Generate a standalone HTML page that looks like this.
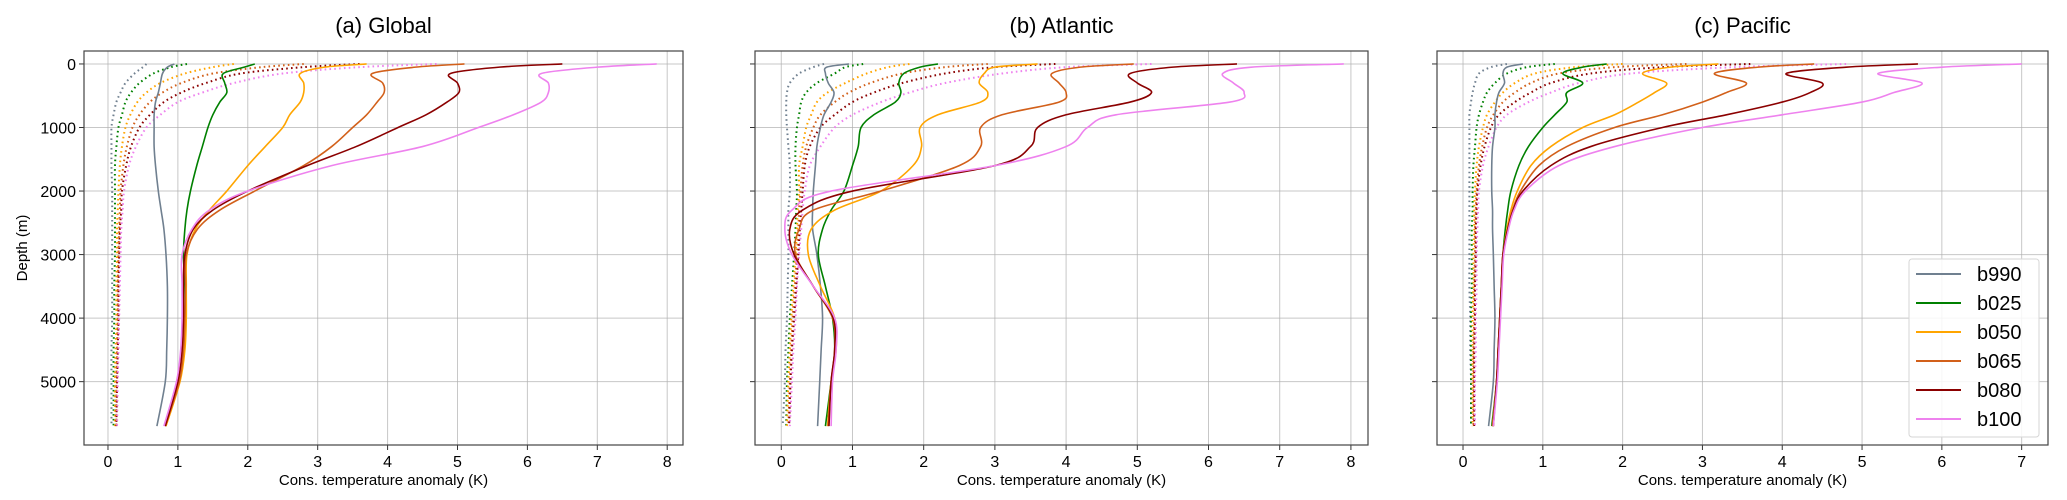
<!DOCTYPE html>
<html><head><meta charset="utf-8"><style>
html,body{margin:0;padding:0;background:#fff;}
svg{display:block;font-family:"Liberation Sans","DejaVu Sans",sans-serif;}
</style></head><body>
<svg id="fig" width="2067" height="500" viewBox="0 0 2067 500" xmlns="http://www.w3.org/2000/svg"></svg>
<script>
const depths = [0, 50, 150, 300, 450, 600, 800, 1000, 1300, 1600, 2000, 2300, 2600, 3000, 3500, 4000, 4500, 5000, 5700];
const seriesNames = ["b990","b025","b050","b065","b080","b100"];
const seriesColors = ["#708090","#008000","#ffa500","#d2601a","#8b0000","#ee82ee"];
const panelTitles = ["(a) Global","(b) Atlantic","(c) Pacific"];
const xTicksAB = [0,1,2,3,4,5,6,7,8];
const xTicksC = [0,1,2,3,4,5,6,7];
const yTicks = [0,1000,2000,3000,4000,5000];

const globalSolid = [
 [0.95,0.85,0.78,0.75,0.72,0.68,0.66,0.66,0.66,0.68,0.72,0.76,0.8,0.83,0.85,0.85,0.84,0.82,0.7],
 [2.1,1.95,1.65,1.67,1.7,1.6,1.5,1.43,1.35,1.27,1.18,1.13,1.1,1.08,1.1,1.1,1.08,1.02,0.82],
 [3.7,3.1,2.75,2.8,2.8,2.75,2.6,2.5,2.25,2.0,1.7,1.45,1.25,1.13,1.12,1.12,1.1,1.03,0.83],
 [5.1,4.4,3.78,3.93,3.95,3.85,3.7,3.5,3.2,2.8,2.1,1.6,1.28,1.12,1.11,1.1,1.08,1.02,0.82],
 [6.5,5.6,4.9,5.0,5.02,4.85,4.55,4.15,3.55,2.85,2.0,1.5,1.22,1.1,1.08,1.08,1.06,1.0,0.82],
 [7.85,7.0,6.2,6.3,6.3,6.2,5.8,5.3,4.5,3.2,2.0,1.45,1.2,1.06,1.06,1.06,1.04,0.98,0.8]];
const globalDotted = [
 [0.55,0.5,0.38,0.25,0.18,0.12,0.08,0.05,0.05,0.05,0.06,0.06,0.06,0.06,0.06,0.06,0.05,0.05,0.05],
 [1.13,0.9,0.65,0.45,0.33,0.25,0.2,0.15,0.12,0.1,0.1,0.1,0.1,0.1,0.09,0.09,0.08,0.08,0.08],
 [1.8,1.5,1.1,0.75,0.55,0.42,0.32,0.25,0.2,0.17,0.15,0.14,0.13,0.13,0.12,0.12,0.11,0.1,0.1],
 [2.8,2.2,1.5,1.05,0.78,0.6,0.45,0.35,0.27,0.22,0.18,0.17,0.16,0.15,0.14,0.14,0.13,0.12,0.12],
 [3.6,2.8,1.9,1.4,1.05,0.8,0.6,0.45,0.33,0.26,0.2,0.19,0.17,0.16,0.15,0.15,0.14,0.13,0.12],
 [4.7,3.6,2.5,1.8,1.35,1.0,0.75,0.55,0.4,0.3,0.23,0.21,0.19,0.18,0.17,0.16,0.15,0.14,0.13]];

const atlanticSolid = [
 [0.95,0.64,0.62,0.66,0.74,0.7,0.6,0.55,0.5,0.48,0.45,0.44,0.44,0.5,0.55,0.58,0.56,0.54,0.51],
 [2.2,1.95,1.72,1.65,1.68,1.6,1.3,1.12,1.08,1.0,0.88,0.7,0.58,0.52,0.62,0.72,0.75,0.7,0.62],
 [3.6,3.0,2.85,2.78,2.9,2.8,2.2,1.95,1.97,1.85,1.4,0.75,0.42,0.38,0.55,0.75,0.77,0.7,0.65],
 [4.95,4.2,3.8,3.9,4.0,3.9,3.1,2.8,2.8,2.5,1.4,0.45,0.25,0.2,0.45,0.72,0.75,0.7,0.66],
 [6.4,5.5,4.9,5.0,5.2,4.9,4.0,3.6,3.5,3.0,1.0,0.3,0.12,0.18,0.45,0.73,0.75,0.7,0.67],
 [7.9,6.6,6.2,6.35,6.5,6.3,4.7,4.3,4.0,3.0,0.7,0.15,0.05,0.15,0.45,0.75,0.77,0.72,0.7]];
const atlanticDotted = [
 [0.6,0.45,0.25,0.12,0.08,0.07,0.07,0.08,0.1,0.12,0.12,0.1,0.1,0.1,0.09,0.08,0.06,0.05,0.02],
 [1.15,0.9,0.75,0.5,0.35,0.28,0.25,0.22,0.2,0.2,0.22,0.21,0.2,0.18,0.15,0.12,0.1,0.08,0.07],
 [1.8,1.5,1.2,0.9,0.65,0.5,0.42,0.35,0.3,0.25,0.25,0.23,0.22,0.2,0.17,0.14,0.12,0.1,0.08],
 [2.9,2.3,1.7,1.25,0.95,0.75,0.55,0.45,0.35,0.3,0.27,0.25,0.24,0.22,0.19,0.16,0.14,0.12,0.1],
 [3.85,3.0,2.3,1.7,1.3,1.0,0.75,0.55,0.4,0.33,0.3,0.28,0.26,0.24,0.21,0.18,0.15,0.13,0.11],
 [5.2,4.0,3.1,2.3,1.8,1.4,1.0,0.75,0.55,0.4,0.33,0.3,0.28,0.25,0.22,0.2,0.17,0.15,0.12]];

const pacificSolid = [
 [0.75,0.55,0.5,0.52,0.45,0.42,0.4,0.4,0.37,0.36,0.36,0.37,0.37,0.38,0.39,0.4,0.39,0.38,0.32],
 [1.8,1.5,1.25,1.5,1.3,1.3,1.15,1.0,0.82,0.7,0.6,0.56,0.53,0.5,0.48,0.46,0.44,0.42,0.36],
 [3.2,2.6,2.25,2.55,2.4,2.2,1.9,1.5,1.1,0.85,0.68,0.6,0.55,0.5,0.48,0.46,0.44,0.42,0.37],
 [4.4,3.7,3.15,3.55,3.3,3.0,2.5,1.9,1.3,0.95,0.72,0.62,0.56,0.5,0.48,0.46,0.44,0.42,0.37],
 [5.7,4.8,4.05,4.5,4.35,4.0,3.3,2.5,1.6,1.1,0.75,0.63,0.56,0.5,0.48,0.46,0.44,0.42,0.38],
 [7.0,6.0,5.2,5.75,5.4,5.0,4.0,3.0,1.9,1.2,0.78,0.64,0.57,0.51,0.49,0.47,0.45,0.43,0.38]];
const pacificDotted = [
 [0.55,0.35,0.2,0.15,0.12,0.1,0.08,0.08,0.08,0.08,0.08,0.08,0.08,0.08,0.08,0.09,0.09,0.1,0.1],
 [1.15,0.8,0.55,0.4,0.3,0.25,0.2,0.17,0.15,0.13,0.12,0.12,0.11,0.11,0.11,0.1,0.1,0.1,0.1],
 [2.0,1.4,0.9,0.65,0.5,0.4,0.3,0.25,0.2,0.17,0.15,0.14,0.14,0.13,0.13,0.12,0.12,0.12,0.12],
 [2.8,1.9,1.2,0.85,0.65,0.5,0.38,0.3,0.24,0.2,0.17,0.16,0.15,0.15,0.14,0.14,0.13,0.13,0.13],
 [3.6,2.5,1.6,1.1,0.85,0.65,0.45,0.35,0.27,0.22,0.18,0.17,0.16,0.16,0.15,0.15,0.14,0.14,0.14],
 [4.8,3.4,2.1,1.45,1.1,0.82,0.55,0.42,0.32,0.25,0.2,0.19,0.18,0.17,0.17,0.16,0.16,0.15,0.15]];

const NS = "http://www.w3.org/2000/svg";
const svg = document.getElementById("fig");
function mk(tag, attrs, parent){
  const e = document.createElementNS(NS, tag);
  for (const k in attrs) e.setAttribute(k, attrs[k]);
  (parent||svg).appendChild(e);
  return e;
}
const panels = [
  {box:[84,683,51,445], xmin:-0.343, xmax:8.226, ticks:xTicksAB, solid:globalSolid, dotted:globalDotted, key:"global"},
  {box:[755,1368,51,445], xmin:-0.369, xmax:8.24, ticks:xTicksAB, solid:atlanticSolid, dotted:atlanticDotted, key:"atlantic"},
  {box:[1437,2048,51,445], xmin:-0.326, xmax:7.33, ticks:xTicksC, solid:pacificSolid, dotted:pacificDotted, key:"pacific"}
];
const yMin = -204, yMax = 5997;

function smoothPath(pts){
  let d = "M" + pts[0][0].toFixed(2) + "," + pts[0][1].toFixed(2);
  for (let i=0;i<pts.length-1;i++){
    const p0 = pts[Math.max(i-1,0)], p1 = pts[i], p2 = pts[i+1], p3 = pts[Math.min(i+2,pts.length-1)];
    const c1x = p1[0]+(p2[0]-p0[0])/6, c1y = p1[1]+(p2[1]-p0[1])/6;
    const c2x = p2[0]-(p3[0]-p1[0])/6, c2y = p2[1]-(p3[1]-p1[1])/6;
    d += " C"+c1x.toFixed(2)+","+c1y.toFixed(2)+" "+c2x.toFixed(2)+","+c2y.toFixed(2)+" "+p2[0].toFixed(2)+","+p2[1].toFixed(2);
  }
  return d;
}

panels.forEach((p, pi) => {
  const [L,R,T,B] = p.box;
  const xs = v => L + (v - p.xmin) / (p.xmax - p.xmin) * (R - L);
  const ys = v => T + (v - yMin) / (yMax - yMin) * (B - T);
  const g = mk("g", {});
  
  
  const title = mk("text", {x:(L+R)/2, y:33, "text-anchor":"middle", "font-size":"22", fill:"#000"}, g);
  title.textContent = panelTitles[pi];
  
  
  // grid
  p.ticks.forEach(t => {
    const x = xs(t);
    const gl = mk("line", {x1:x, x2:x, y1:T, y2:B, stroke:"#b0b0b0", "stroke-width":"1", opacity:"0.7"}, g);
    
    
    mk("line", {x1:x, x2:x, y1:B, y2:B+5, stroke:"#333", "stroke-width":"1"}, g);
    const tl = mk("text", {x:x, y:467, "text-anchor":"middle", "font-size":"16", fill:"#000"}, g);
    tl.textContent = t;
    
    
  });
  yTicks.forEach(t => {
    const y = ys(t);
    const gl = mk("line", {x1:L, x2:R, y1:y, y2:y, stroke:"#b0b0b0", "stroke-width":"1", opacity:"0.7"}, g);
    
    
    mk("line", {x1:L-5, x2:L, y1:y, y2:y, stroke:"#333", "stroke-width":"1"}, g);
    if (pi === 0) {
      const tl = mk("text", {x:L-8, y:y+6, "text-anchor":"end", "font-size":"16", fill:"#000"}, g);
      tl.textContent = t;
      
      
    }
  });
  // dotted
  p.dotted.forEach((vals, si) => {
    const pts = vals.map((v,i)=>[xs(v), ys(depths[i])]);
    const path = mk("path", {d:smoothPath(pts), fill:"none", stroke:seriesColors[si], "stroke-width":"2", "stroke-dasharray":"1.6,3.2"}, g);
    
    
  });
  p.solid.forEach((vals, si) => {
    const pts = vals.map((v,i)=>[xs(v), ys(depths[i])]);
    const path = mk("path", {d:smoothPath(pts), fill:"none", stroke:seriesColors[si], "stroke-width":"1.6"}, g);
    
    
  });
  const frame = mk("rect", {x:L, y:T, width:R-L, height:B-T, fill:"none", stroke:"#444", "stroke-width":"1.2"}, g);
  
  
  const xl = mk("text", {x:(L+R)/2, y:485, "text-anchor":"middle", "font-size":"15", fill:"#000"}, g);
  xl.textContent = "Cons. temperature anomaly (K)";
  
  
});

const yl = mk("text", {x:0, y:0, transform:"translate(27,248) rotate(-90)", "text-anchor":"middle", "font-size":"15", fill:"#000"});
yl.textContent = "Depth (m)";



// legend
const lg = mk("g", {});


mk("rect", {x:1909, y:259, width:130, height:178, rx:3, fill:"#fff", "fill-opacity":"0.85", stroke:"#d6d6d6", "stroke-width":"1"}, lg);
seriesNames.forEach((n, i) => {
  const y = 274 + i*29;
  const e = mk("g", {}, lg);
  
  
  mk("line", {x1:1916, x2:1961, y1:y, y2:y, stroke:seriesColors[i], "stroke-width":"2"}, e);
  const t = mk("text", {x:1977, y:y+7, "font-size":"20", fill:"#000"}, e);
  t.textContent = n;
});
</script>
</body></html>
